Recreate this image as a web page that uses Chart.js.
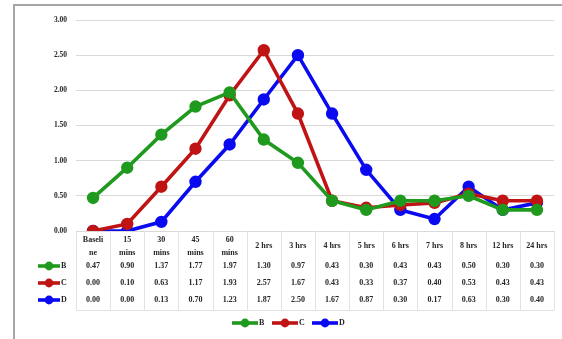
<!DOCTYPE html>
<html>
<head>
<meta charset="utf-8">
<script src="https://cdn.jsdelivr.net/npm/chart.js@4/dist/chart.umd.min.js"></script>
<style>
  html, body { margin: 0; padding: 0; background: #ffffff; }
  #wrap { width: 562px; height: 339px; position: relative; }
</style>
</head>
<body>
<div id="wrap"><canvas id="c" width="562" height="339"></canvas></div>
<script>
// Time points (header lines of the data table)
const categories = ["Baseline", "15 mins", "30 mins", "45 mins", "60 mins", "2 hrs", "3 hrs",
  "4 hrs", "5 hrs", "6 hrs", "7 hrs", "8 hrs", "12 hrs", "24 hrs"];
const headerLines = [["Baseli", "ne"], ["15", "mins"], ["30", "mins"], ["45", "mins"], ["60", "mins"],
  ["2 hrs"], ["3 hrs"], ["4 hrs"], ["5 hrs"], ["6 hrs"], ["7 hrs"], ["8 hrs"], ["12 hrs"], ["24 hrs"]];

const seriesNames = ["B", "C", "D"];
const valuesB = [0.47, 0.90, 1.37, 1.77, 1.97, 1.30, 0.97, 0.43, 0.30, 0.43, 0.43, 0.50, 0.30, 0.30];
const valuesC = [0.00, 0.10, 0.63, 1.17, 1.93, 2.57, 1.67, 0.43, 0.33, 0.37, 0.40, 0.53, 0.43, 0.43];
const valuesD = [0.00, 0.00, 0.13, 0.70, 1.23, 1.87, 2.50, 1.67, 0.87, 0.30, 0.17, 0.63, 0.30, 0.40];
const yTicks = [0, 0.5, 1.0, 1.5, 2.0, 2.5, 3.0];

const colors = ["#1f9a1f", "#c01414", "#0a0af0"];
const serif = "'Liberation Serif', 'DejaVu Serif', serif";

function makeSet(name, data, color) {
  return {
    label: name, data: data,
    borderColor: color, backgroundColor: color,
    borderWidth: 3.6, pointRadius: 4.4, pointHoverRadius: 4.4,
    pointBackgroundColor: color, pointBorderColor: color,
    tension: 0
  };
}

// Draws the frame, the data table under the axis and the bottom legend
const tablePlugin = {
  id: 'dataTable',
  beforeDraw(chart) {
    const ctx = chart.ctx;
    ctx.save();
    ctx.fillStyle = '#ffffff';
    ctx.fillRect(0, 0, chart.width, chart.height);
    ctx.strokeStyle = '#a6a6a6';
    ctx.lineWidth = 2;
    ctx.beginPath();
    ctx.moveTo(14, 339);
    ctx.lineTo(14, 5);
    ctx.lineTo(562, 5);
    ctx.stroke();
    ctx.restore();
  },
  afterDatasetsDraw(chart) {
    const ctx = chart.ctx;
    const x = chart.scales.x;
    const area = chart.chartArea;
    const n = categories.length;
    const step = x.getPixelForValue(1) - x.getPixelForValue(0);
    const top = area.bottom;
    const headerBottom = top + 27;
    const rowH = 17;
    const bottom = headerBottom + rowH * 3 + 1;

    ctx.save();
    // table grid
    ctx.strokeStyle = '#e2e2e2';
    ctx.lineWidth = 1;
    ctx.beginPath();
    for (let i = 0; i <= n; i++) {
      const px = Math.round(x.getPixelForValue(i) - step / 2) + 0.5;
      ctx.moveTo(px, top);
      ctx.lineTo(px, bottom);
    }
    ctx.moveTo(area.left, Math.round(bottom) + 0.5);
    ctx.lineTo(area.right, Math.round(bottom) + 0.5);
    ctx.stroke();

    // header cells
    ctx.fillStyle = '#262626';
    ctx.font = "bold 8px " + serif;
    ctx.textAlign = 'center';
    ctx.textBaseline = 'middle';
    headerLines.forEach((lines, i) => {
      const px = x.getPixelForValue(i);
      const mid = top + 15;
      if (lines.length === 1) {
        ctx.fillText(lines[0], px, mid);
      } else {
        ctx.fillText(lines[0], px, mid - 6.5);
        ctx.fillText(lines[1], px, mid + 6.5);
      }
    });

    // value rows with series keys
    const rows = [valuesB, valuesC, valuesD];
    rows.forEach((vals, r) => {
      const cy = headerBottom + rowH * r + 8;
      ctx.fillStyle = '#262626';
      ctx.font = "bold 8px " + serif;
      ctx.textAlign = 'center';
      vals.forEach((v, i) => ctx.fillText(v.toFixed(2), x.getPixelForValue(i), cy));
      drawKey(ctx, 38, 60, cy, colors[r]);
      ctx.fillStyle = '#262626';
      ctx.textAlign = 'left';
      ctx.font = "bold 8px " + serif;
      ctx.fillText(seriesNames[r], 61, cy);
    });

    // legend
    const ly = 323;
    let lx = 232;
    seriesNames.forEach((name, r) => {
      drawKey(ctx, lx, lx + 26, ly, colors[r]);
      ctx.fillStyle = '#262626';
      ctx.textAlign = 'left';
      ctx.textBaseline = 'middle';
      ctx.font = "bold 8px " + serif;
      ctx.fillText(name, lx + 27, ly);
      lx += 40;
    });
    ctx.restore();
  }
};

function drawKey(ctx, x0, x1, y, color) {
  ctx.strokeStyle = color;
  ctx.fillStyle = color;
  ctx.lineWidth = 3.6;
  ctx.beginPath();
  ctx.moveTo(x0, y);
  ctx.lineTo(x1, y);
  ctx.stroke();
  ctx.beginPath();
  ctx.arc((x0 + x1) / 2, y, 4.4, 0, Math.PI * 2);
  ctx.fill();
}

new Chart(document.getElementById('c'), {
  type: 'line',
  data: {
    labels: categories,
    datasets: [
      makeSet(seriesNames[0], valuesB, colors[0]),
      makeSet(seriesNames[1], valuesC, colors[1]),
      makeSet(seriesNames[2], valuesD, colors[2])
    ]
  },
  plugins: [tablePlugin],
  options: {
    responsive: false,
    animation: false,
    layout: { padding: { left: 0, right: 8, top: 20, bottom: 100 } },
    plugins: { legend: { display: false }, tooltip: { enabled: false } },
    scales: {
      x: {
        offset: true,
        grid: { display: false },
        border: { display: false },
        ticks: { display: false }
      },
      y: {
        min: 0, max: 3,
        afterBuildTicks(scale) { scale.ticks = yTicks.map(v => ({ value: v })); },
        afterFit(scale) { scale.width = 76; },
        grid: { color: '#d9d9d9', drawTicks: false, lineWidth: 1 },
        border: { display: false },
        ticks: {
          padding: 9,
          color: '#262626',
          font: { family: serif, size: 7.5, weight: 'bold' },
          callback: v => Number(v).toFixed(2)
        }
      }
    }
  }
});
</script>
</body>
</html>
